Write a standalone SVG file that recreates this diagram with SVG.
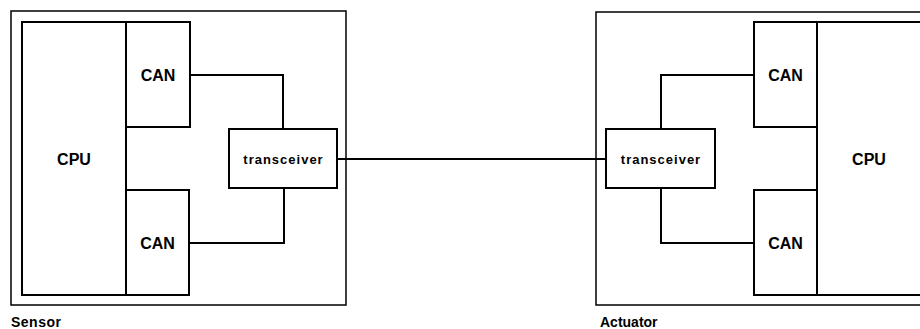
<svg xmlns="http://www.w3.org/2000/svg" width="920" height="329" viewBox="0 0 920 329">
<style>
.outer{fill:none;stroke:#000;stroke-width:1.5}
.box{fill:#fff;stroke:#000;stroke-width:2}
.wire{fill:none;stroke:#000;stroke-width:2}
text{font-family:"Liberation Sans",Arial,sans-serif;font-weight:bold;fill:#000}
.big{font-size:16px;text-anchor:middle}
.tx{font-size:13px;text-anchor:middle;letter-spacing:1px}
.lbl{font-size:14px}
</style>
<rect width="920" height="329" fill="#fff"/>
<g id="sensor">
<rect class="outer" x="11" y="11" width="335" height="294"/>
<text class="lbl" x="11" y="327" letter-spacing="0.5">Sensor</text>
</g>
<g id="actuator">
<rect class="outer" x="596" y="12" width="340" height="293"/>
<text class="lbl" x="600" y="327">Actuator</text>
</g>
<g id="connectors">
<path class="wire" d="M190,75 H283 V129"/>
<path class="wire" d="M189,243 H284 V188"/>
<path class="wire" d="M337,159 H606"/>
<path class="wire" d="M754,75 H661 V129"/>
<path class="wire" d="M754,243 H661 V188"/>
</g>
<g id="cpu-left">
<rect class="box" x="22" y="22" width="104" height="273"/>
<text class="big" x="74" y="165">CPU</text>
</g>
<g id="can-left-top">
<rect class="box" x="126" y="22" width="64" height="105"/>
<text class="big" x="158" y="81">CAN</text>
</g>
<g id="can-left-bottom">
<rect class="box" x="126" y="190" width="63" height="105"/>
<text class="big" x="157.5" y="249">CAN</text>
</g>
<g id="transceiver-left">
<rect class="box" x="229" y="129" width="108" height="59"/>
<text class="tx" x="283.5" y="164">transceiver</text>
</g>
<g id="transceiver-right">
<rect class="box" x="606" y="129" width="109" height="59"/>
<text class="tx" x="661" y="164">transceiver</text>
</g>
<g id="can-right-top">
<rect class="box" x="754" y="22" width="63" height="105"/>
<text class="big" x="785.5" y="81">CAN</text>
</g>
<g id="can-right-bottom">
<rect class="box" x="754" y="190" width="63" height="105"/>
<text class="big" x="785.5" y="249">CAN</text>
</g>
<g id="cpu-right">
<rect class="box" x="817" y="22" width="105" height="273"/>
<text class="big" x="869" y="165">CPU</text>
</g>
</svg>
